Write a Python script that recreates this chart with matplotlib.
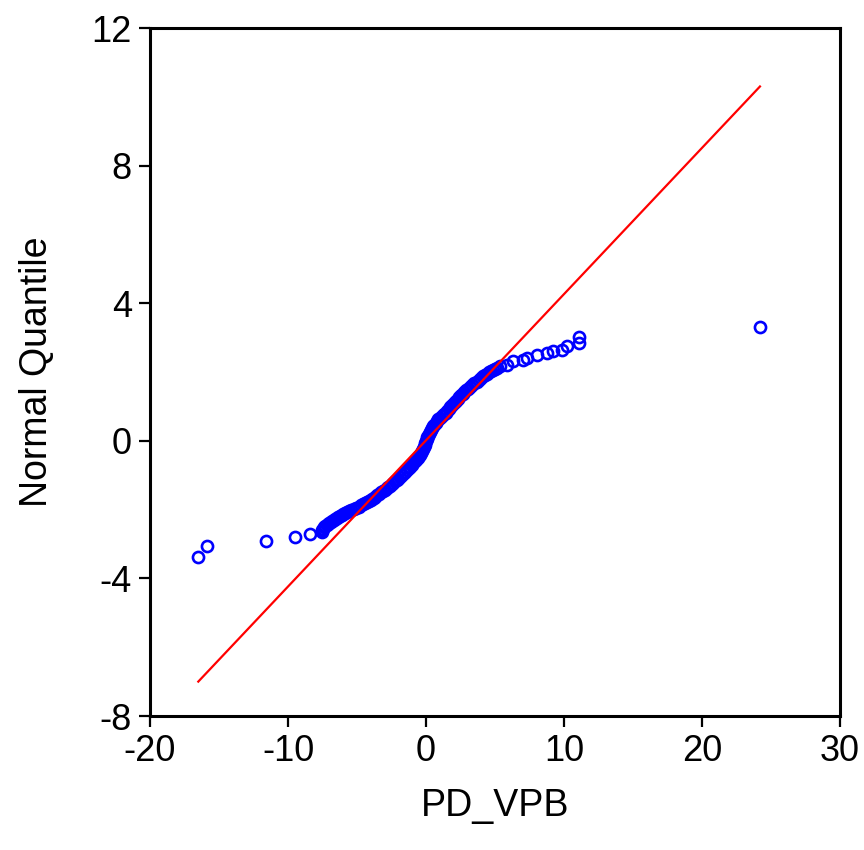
import numpy as np
import matplotlib
matplotlib.use("Agg")
import matplotlib.pyplot as plt

plt.rcParams['font.family'] = ['Liberation Sans', 'DejaVu Sans']
plt.rcParams['axes.unicode_minus'] = False

# -- left tail
left_x = [-16.5, -15.9, -11.6, -9.5, -8.4]
left_y = [-3.37, -3.05, -2.90, -2.79, -2.70]

# -- dense central band
band_y = [-2.65, -2.60, -2.56, -2.52, -2.48, -2.45, -2.42, -2.39, -2.36, -2.33,
          -2.30, -2.27, -2.24, -2.21, -2.18, -2.15, -2.12, -2.09, -2.06, -2.03,
          -2.00, -1.97, -1.94, -1.91, -1.88, -1.85, -1.82, -1.79, -1.76, -1.73,
          -1.70, -1.66, -1.62, -1.58, -1.54, -1.50, -1.46, -1.42, -1.38, -1.34,
          -1.30, -1.26, -1.22, -1.18, -1.14, -1.10, -1.05, -1.00, -0.95, -0.90,
          -0.85, -0.80, -0.75, -0.70, -0.65, -0.60, -0.55, -0.50, -0.45, -0.40,
          -0.35, -0.29, -0.23, -0.17, -0.11, -0.05, 0.00, 0.05, 0.10, 0.15,
          0.20, 0.26, 0.32, 0.37, 0.42, 0.47, 0.52, 0.57, 0.62, 0.67,
          0.72, 0.77, 0.82, 0.87, 0.92, 0.97, 1.02, 1.07, 1.12, 1.17,
          1.22, 1.27, 1.32, 1.37, 1.42, 1.47, 1.52, 1.57, 1.62, 1.67,
          1.72, 1.77, 1.82, 1.87, 1.91, 1.95, 1.99, 2.03, 2.07, 2.10,
          2.13, 2.16]
band_x = [-7.55, -7.52, -7.46, -7.40, -7.30, -7.20, -7.12, -7.03, -6.92, -6.82,
          -6.70, -6.58, -6.47, -6.36, -6.22, -6.10, -5.98, -5.86, -5.74, -5.58,
          -5.40, -5.22, -5.04, -4.86, -4.70, -4.55, -4.42, -4.28, -4.14, -4.02,
          -3.90, -3.78, -3.66, -3.52, -3.38, -3.25, -3.12, -3.00, -2.86, -2.73,
          -2.60, -2.48, -2.36, -2.24, -2.13, -2.02, -1.90, -1.76, -1.63, -1.50,
          -1.38, -1.26, -1.15, -1.03, -0.91, -0.80, -0.70, -0.60, -0.51, -0.43,
          -0.35, -0.28, -0.21, -0.15, -0.09, -0.04, 0.00, 0.04, 0.09, 0.14,
          0.20, 0.27, 0.35, 0.42, 0.50, 0.59, 0.69, 0.78, 0.89, 1.02,
          1.16, 1.28, 1.42, 1.54, 1.65, 1.74, 1.84, 1.96, 2.07, 2.18,
          2.30, 2.42, 2.54, 2.66, 2.78, 2.92, 3.06, 3.20, 3.35, 3.50,
          3.66, 3.83, 3.99, 4.15, 4.30, 4.44, 4.58, 4.74, 4.89, 5.02,
          5.18, 5.36]

# -- right tail
right_x = [5.85, 6.33, 7.05, 7.30, 8.07, 8.75, 9.18, 9.88, 10.2, 11.1, 11.1, 24.2]
right_y = [2.21, 2.31, 2.35, 2.40, 2.50, 2.55, 2.62, 2.65, 2.76, 2.84, 3.03, 3.31]

# -- reference line endpoints
line_x = [-16.5, 24.2]
line_y = [-7.0, 10.3]

xticks = [-20, -10, 0, 10, 20, 30]
yticks = [-8, -4, 0, 4, 8, 12]

qx = left_x + band_x + right_x
qy = left_y + band_y + right_y

fig = plt.figure(figsize=(8.64, 8.5), dpi=100)
ax = fig.add_axes([150/864, 1-716/850, 690/864, 688/850])

ax.plot(qx, qy, 'o', ls='none', ms=8, mfc='none', mec=(0, 0, 1), mew=1.9, zorder=2)
ax.plot(line_x, line_y, color=(1, 0, 0), lw=1.6, zorder=3)

ax.set_xlim(-20, 30)
ax.set_ylim(-8, 12)
ax.set_xticks(xticks)
ax.set_yticks(yticks)
ax.tick_params(direction='out', length=8, width=1.6, labelsize=26, pad=5,
               top=False, right=False)
for s in ax.spines.values():
    s.set_linewidth(2.2)

ax.set_xlabel('PD_VPB', fontsize=27, labelpad=14)
ax.set_ylabel('Normal Quantile', fontsize=27, labelpad=26)

fig.savefig('out.png', dpi=100)
